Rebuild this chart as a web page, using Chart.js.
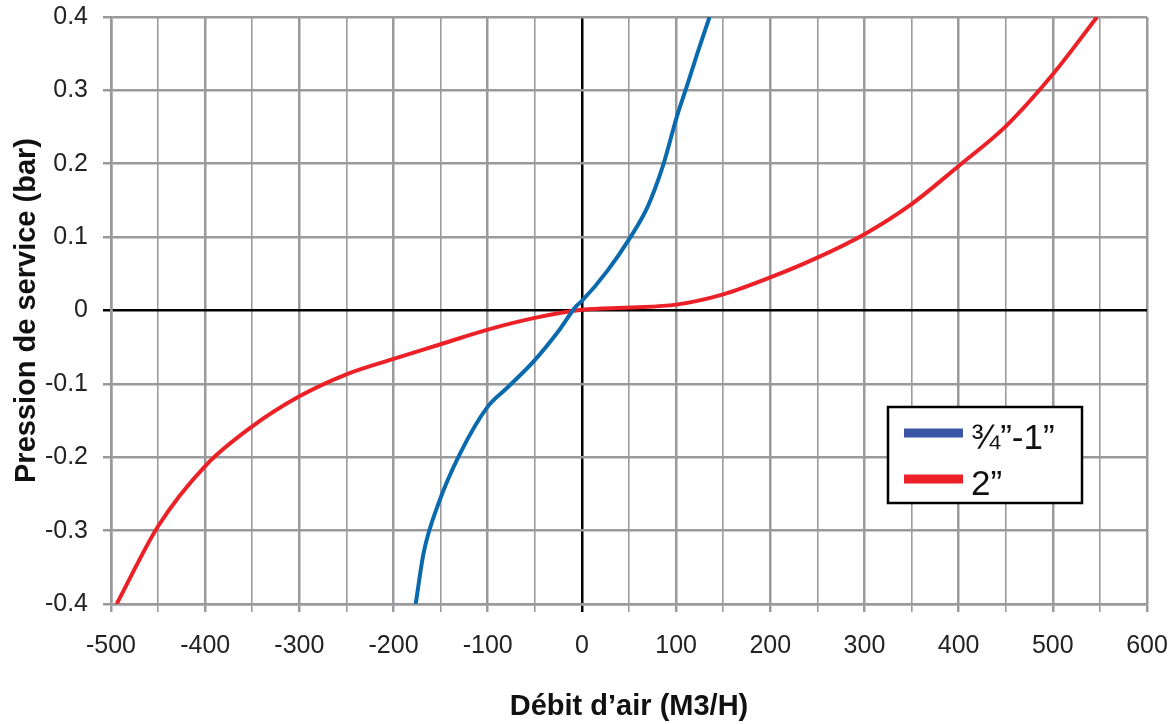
<!DOCTYPE html>
<html>
<head>
<meta charset="utf-8">
<script src="https://cdn.jsdelivr.net/npm/chart.js@4"></script>
<style>
  html, body { margin: 0; padding: 0; background: #fff; }
  #wrap { width: 1170px; height: 724px; }
</style>
</head>
<body>
<div id="wrap"><canvas id="flowChart" width="1170" height="724"></canvas></div>
<script>
// series labels
const seriesNames = ['\u00BE\u201D-1\u201D', '2\u201D'];

// 3/4"-1" curve
const smallX = [-176.5, -168, -152, -129, -100, -79, -51, -26, -6, 0, 27, 50, 70, 86, 101, 111, 123, 135.5];
const smallY = [-0.4, -0.33, -0.262, -0.194, -0.131, -0.105, -0.069, -0.030, 0.006, 0.013, 0.054, 0.097, 0.142, 0.197, 0.265, 0.304, 0.352, 0.4];

// 2" curve
const bigX = [-494, -450, -400, -350, -300, -250, -200, -150, -100, -50, 0, 50, 100, 150, 200, 250, 300, 350, 400, 450, 500, 547];
const bigY = [-0.4, -0.294, -0.212, -0.158, -0.117, -0.087, -0.066, -0.046, -0.026, -0.010, 0.001, 0.004, 0.008, 0.022, 0.045, 0.072, 0.104, 0.145, 0.197, 0.251, 0.322, 0.4];

const xMin = -500, xMax = 600, xStep = 50;
const yMin = -0.4, yMax = 0.4, yStep = 0.1;

const FONT = "'Liberation Sans', Arial, sans-serif";
const toPoints = (xs, ys) => xs.map((x, i) => ({x: x, y: ys[i]}));

const lineColors = ['#0a6aad', '#ec2027'];
const legendColors = ['#3a55a5', '#ec2027'];

// boxed legend in the lower right of the plot
const boxLegend = {
    id: 'boxLegend',
    afterDraw(chart) {
        const c = chart.ctx;
        c.save();
        c.fillStyle = '#fff';
        c.fillRect(888, 407, 194, 96);
        c.strokeStyle = '#000';
        c.lineWidth = 2.5;
        c.strokeRect(888, 407, 194, 96);
        chart.data.datasets.forEach((ds, i) => {
            const y = 433 + i * 46;
            c.strokeStyle = legendColors[i];
            c.lineWidth = 9;
            c.beginPath();
            c.moveTo(904, y);
            c.lineTo(963, y);
            c.stroke();
            c.fillStyle = '#111';
            c.font = '35px ' + FONT;
            c.textBaseline = 'middle';
            c.textAlign = 'left';
            c.fillText(ds.label, 971, y + 6);
        });
        c.restore();
    }
};

const gridColor = v => (Math.abs(v) < 1e-9 ? '#000' : '#9a9a9c');

const ctx = document.getElementById('flowChart').getContext('2d');
const chart = new Chart(ctx, {
    type: 'scatter',
    data: {
        datasets: [
            {label: seriesNames[0], data: toPoints(smallX, smallY), borderColor: lineColors[0], borderWidth: 4, showLine: true, pointRadius: 0, cubicInterpolationMode: 'monotone'},
            {label: seriesNames[1], data: toPoints(bigX, bigY), borderColor: lineColors[1], borderWidth: 4, showLine: true, pointRadius: 0, cubicInterpolationMode: 'monotone'}
        ]
    },
    options: {
        responsive: false,
        devicePixelRatio: 1,
        animation: false,
        layout: {padding: {left: 0, right: 23, top: 17, bottom: 0}},
        plugins: {legend: {display: false}, tooltip: {enabled: false}},
        scales: {
            x: {
                type: 'linear',
                min: xMin, max: xMax,
                afterFit: s => { s.height = 120; s.paddingLeft = 0; s.paddingRight = 0; },
                ticks: {
                    stepSize: xStep,
                    autoSkip: false,
                    maxRotation: 0,
                    padding: 19,
                    color: '#222',
                    font: {family: FONT, size: 25},
                    callback: v => (v % 100 === 0 ? String(v) : '')
                },
                grid: {
                    tickLength: 8,
                    color: c => gridColor(c.tick.value),
                    tickColor: c => gridColor(c.tick.value),
                    lineWidth: c => (c.tick.value % 100 === 0 ? 2.5 : 1.6)
                },
                border: {color: '#9a9a9c', width: 2.5},
                title: {
                    display: true,
                    text: 'Débit d’air (M3/H)',
                    color: '#111',
                    font: {family: FONT, size: 29, weight: 'bold'},
                    padding: {top: 0, bottom: 0}
                }
            },
            y: {
                type: 'linear',
                min: yMin, max: yMax,
                afterFit: s => { s.width = 111; s.paddingTop = 0; s.paddingBottom = 0; },
                ticks: {
                    stepSize: yStep,
                    padding: 15,
                    color: '#222',
                    font: {family: FONT, size: 25},
                    callback: v => { const r = Number(v.toFixed(1)); return r === 0 ? '0' : String(r); }
                },
                grid: {
                    tickLength: 8,
                    color: c => gridColor(c.tick.value),
                    tickColor: c => gridColor(c.tick.value),
                    lineWidth: 2.5
                },
                border: {color: '#9a9a9c', width: 2.5},
                title: {
                    display: true,
                    text: 'Pression de service (bar)',
                    color: '#111',
                    font: {family: FONT, size: 29, weight: 'bold'},
                    padding: {top: 10, bottom: 0}
                }
            }
        }
    },
    plugins: [boxLegend]
});
</script>
</body>
</html>
